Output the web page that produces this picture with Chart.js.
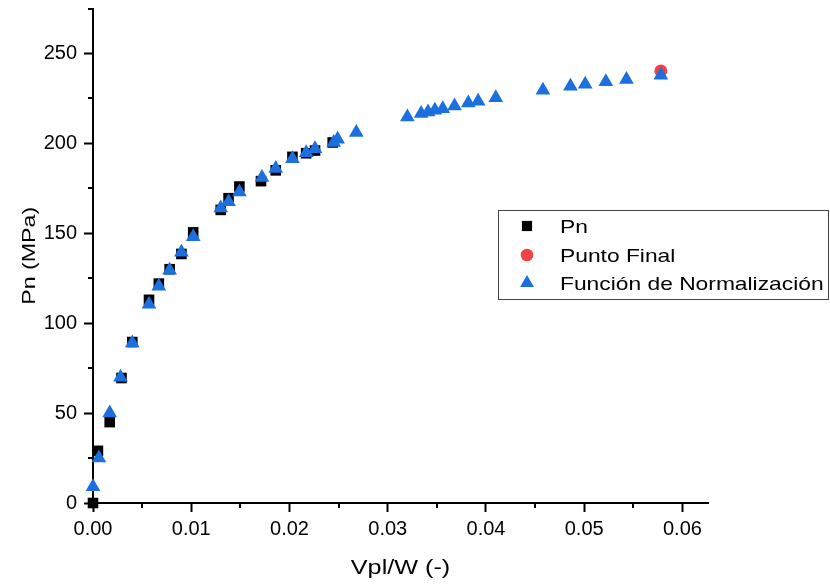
<!DOCTYPE html>
<html>
<head>
<meta charset="utf-8">
<script src="https://cdn.jsdelivr.net/npm/chart.js@4/dist/chart.umd.min.js"></script>
<style>
  html, body { margin: 0; padding: 0; background: #fff; }
  #c { display: block; }
</style>
</head>
<body>
<canvas id="c" width="830" height="584"></canvas>
<script>
// ---------------- DATA ----------------
const seriesNames = ['Pn', 'Punto Final', 'Función de Normalización'];

const pnX = [0, 0.0005, 0.0017, 0.0029, 0.0040, 0.0057, 0.0067, 0.0078, 0.0090, 0.0102, 0.0130, 0.0138, 0.0149, 0.0171, 0.0186, 0.0203, 0.0217, 0.0226, 0.0244];
const pnY = [0, 29, 45, 69.5, 89.5, 113, 122, 130, 138.5, 150.5, 163, 169.5, 176, 179, 185, 192.5, 194.5, 196, 200.5];

const finalX = [0.0578];
const finalY = [240.3];

const normX = [0, 0.0006, 0.0017, 0.0028, 0.0040, 0.0057, 0.0067, 0.0078, 0.0090, 0.0102, 0.0130, 0.0138, 0.0149, 0.0172, 0.0186, 0.0203, 0.0217, 0.0226, 0.0245, 0.0249, 0.0268, 0.0320, 0.0334, 0.0341, 0.0348, 0.0356, 0.0368, 0.0382, 0.0392, 0.0410, 0.0458, 0.0486, 0.0501, 0.0522, 0.0543, 0.0578];
const normY = [9, 25, 50, 70, 89, 110.5, 120.5, 129.5, 139.5, 148, 164, 167.5, 173, 181, 186, 191.5, 194.8, 197, 200.5, 202.3, 206, 214.7, 216.6, 217.5, 218.4, 219.3, 220.8, 222.5, 223.4, 225.3, 229.5, 231.7, 232.9, 234.2, 235.5, 237.9];

const xMajorTicks = [0, 0.01, 0.02, 0.03, 0.04, 0.05, 0.06];
const xTickLabels = ['0.00', '0.01', '0.02', '0.03', '0.04', '0.05', '0.06'];
const xMinorTicks = [0.005, 0.015, 0.025, 0.035, 0.045, 0.055];
const yMajorTicks = [0, 50, 100, 150, 200, 250];
const yTickLabels = ['0', '50', '100', '150', '200', '250'];
const yMinorTicks = [25, 75, 125, 175, 225, 275];

const xTitle = 'Vpl/W (-)';
const yTitle = 'Pn (MPa)';

// ---------------- HELPERS ----------------
const FONT = '"Liberation Sans", Arial, Helvetica, sans-serif';
const BLUE = '#1b6fdf';
const RED = '#f04343';
const toPts = (xs, ys) => xs.map((x, i) => ({ x: x, y: ys[i] }));

function drawMarker(ctx, style, x, y, r, color) {
  ctx.save();
  ctx.fillStyle = color;
  ctx.beginPath();
  if (style === 'rect') {
    const s = r * Math.SQRT1_2;
    ctx.rect(x - s, y - s, 2 * s, 2 * s);
  } else if (style === 'circle') {
    ctx.arc(x, y, r, 0, Math.PI * 2);
  } else {
    for (let k = 0; k < 3; k++) {
      const a = k * 2 * Math.PI / 3;
      const px = x + Math.sin(a) * r, py = y - Math.cos(a) * r;
      if (k === 0) ctx.moveTo(px, py); else ctx.lineTo(px, py);
    }
    ctx.closePath();
  }
  ctx.fill();
  ctx.restore();
}

function stretchedText(ctx, text, x, y, size, sx, align, rot) {
  ctx.save();
  ctx.fillStyle = '#000';
  ctx.font = size + 'px ' + FONT;
  ctx.textBaseline = 'alphabetic';
  ctx.textAlign = align;
  ctx.translate(x, y);
  if (rot) ctx.rotate(rot);
  ctx.scale(sx, 1);
  ctx.fillText(text, 0, 0);
  ctx.restore();
}

const deco = {
  id: 'deco',
  beforeDatasetsDraw(chart) {
    const ctx = chart.ctx;
    const xs = chart.scales.x, ys = chart.scales.y;
    ctx.save();
    ctx.strokeStyle = '#000';
    ctx.lineWidth = 2;
    xMinorTicks.forEach(v => {
      const px = Math.round(xs.getPixelForValue(v));
      ctx.beginPath(); ctx.moveTo(px, ys.bottom); ctx.lineTo(px, ys.bottom + 5); ctx.stroke();
    });
    yMinorTicks.forEach(v => {
      const py = Math.round(ys.getPixelForValue(v));
      ctx.beginPath(); ctx.moveTo(xs.left, py); ctx.lineTo(xs.left - 5, py); ctx.stroke();
    });
    ctx.restore();
  },
  afterDraw(chart) {
    const ctx = chart.ctx;
    const ca = chart.chartArea;
    // axis titles
    stretchedText(ctx, xTitle, (ca.left + ca.right) / 2, 574, 21, 1.2, 'center', 0);
    stretchedText(ctx, yTitle, 35, (ca.top + ca.bottom) / 2, 19, 1.22, 'center', -Math.PI / 2);
    // legend
    ctx.save();
    ctx.strokeStyle = '#444';
    ctx.lineWidth = 1;
    ctx.strokeRect(498.5, 210.5, 330, 89);
    ctx.restore();
    const rows = [226, 255, 283];
    const styles = ['rect', 'circle', 'triangle'];
    const colors = ['#000', RED, BLUE];
    const radii = [7.2, 6.3, 8];
    seriesNames.forEach((name, i) => {
      drawMarker(ctx, styles[i], 527, rows[i], radii[i], colors[i]);
      stretchedText(ctx, name, 560, rows[i] + 7, 19, 1.2, 'left', 0);
    });
  }
};

new Chart(document.getElementById('c'), {
  type: 'scatter',
  data: {
    datasets: [
      { label: seriesNames[2], data: toPts(normX, normY), pointStyle: 'triangle', pointRadius: 8.5, pointHoverRadius: 8.5,
        backgroundColor: BLUE, borderColor: BLUE, pointBorderWidth: 0, order: 0, clip: false },
      { label: seriesNames[1], data: toPts(finalX, finalY), pointStyle: 'circle', pointRadius: 6.5, pointHoverRadius: 6.5,
        backgroundColor: RED, borderColor: RED, pointBorderWidth: 0, order: 1, clip: false },
      { label: seriesNames[0], data: toPts(pnX, pnY), pointStyle: 'rect', pointRadius: 7.5, pointHoverRadius: 7.5,
        backgroundColor: '#000', borderColor: '#000', pointBorderWidth: 0, order: 2, clip: false }
    ]
  },
  options: {
    responsive: false,
    animation: false,
    events: [],
    layout: { padding: { left: 0, top: 8, right: 122, bottom: 0 } },
    plugins: { legend: { display: false }, tooltip: { enabled: false } },
    scales: {
      x: {
        type: 'linear', min: 0, max: 0.0626,
        afterBuildTicks: s => { s.ticks = xMajorTicks.map(v => ({ value: v })); },
        afterFit: s => { s.height = 81; s.paddingLeft = 0; s.paddingRight = 0; },
        ticks: { callback: (v, i) => xTickLabels[i], color: '#000', font: { family: FONT, size: 20 }, padding: 5, maxRotation: 0, autoSkip: false },
        grid: { drawOnChartArea: false, drawTicks: true, tickLength: 9, tickWidth: 2, tickColor: '#000' },
        border: { display: true, color: '#000', width: 2 },
        title: { display: false }
      },
      y: {
        type: 'linear', min: 0, max: 275,
        afterBuildTicks: s => { s.ticks = yMajorTicks.map(v => ({ value: v })); },
        afterFit: s => { s.width = 93; s.paddingTop = 0; s.paddingBottom = 0; },
        ticks: { callback: (v, i) => yTickLabels[i], color: '#000', font: { family: FONT, size: 20 }, padding: 7, autoSkip: false },
        grid: { drawOnChartArea: false, drawTicks: true, tickLength: 9, tickWidth: 2, tickColor: '#000' },
        border: { display: true, color: '#000', width: 2 },
        title: { display: false }
      }
    }
  },
  plugins: [deco]
});
</script>
</body>
</html>
